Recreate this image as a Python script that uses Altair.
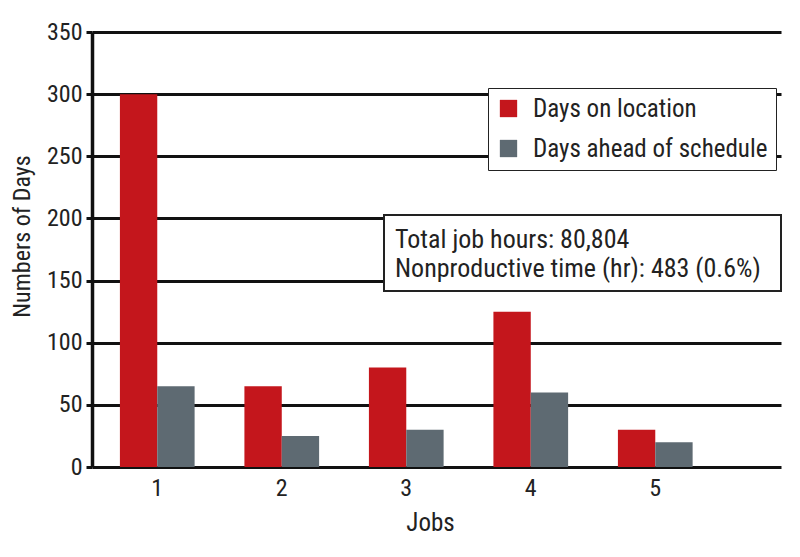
import altair as alt
import pandas as pd

jobs = ["1", "2", "3", "4", "5"]
days_on_location = [300, 65, 80, 125, 30]
days_ahead = [65, 25, 30, 60, 20]
series = ["Days on location", "Days ahead of schedule"]
colors = ["#C4161C", "#5E6A72"]
y_ticks = [0, 50, 100, 150, 200, 250, 300, 350]
note_lines = ["Total job hours: 80,804", "Nonproductive time (hr): 483 (0.6%)"]

FONT = "Liberation Sans Narrow, Roboto Condensed, DejaVu Sans Condensed, Arial Narrow, sans-serif"

rows = []
for j, a, b in zip(jobs, days_on_location, days_ahead):
    rows.append({"Job": j, "Series": series[0], "Days": a})
    rows.append({"Job": j, "Series": series[1], "Days": b})
df = pd.DataFrame(rows)

W, H = 689, 435

bars = alt.Chart(df).mark_bar().encode(
    x=alt.X("Job:N", sort=jobs,
            scale=alt.Scale(paddingInner=0.4, paddingOuter=0.467, align=0.24),
            axis=alt.Axis(title="Jobs", labelAngle=0, labelFontSize=24, labelColor="#222",
                          labelFont=FONT, labelPadding=9, ticks=False, domain=False,
                          titleFont=FONT, titleFontSize=25, titleFontWeight="normal",
                          titleColor="#222", titleX=338, titleY=55, titleBaseline="middle")),
    xOffset=alt.XOffset("Series:N", sort=series, scale=alt.Scale(paddingInner=0, paddingOuter=0)),
    y=alt.Y("Days:Q", scale=alt.Scale(domain=[0, 350], nice=False),
            axis=alt.Axis(title="Numbers of Days", values=y_ticks, labelFontSize=24,
                          labelFont=FONT, labelColor="#222", labelPadding=4,
                          tickSize=6, tickColor="#111", tickWidth=3,
                          domainColor="#111", domainWidth=3.5,
                          grid=True, gridColor="#111", gridWidth=3,
                          titleFont=FONT, titleFontSize=24, titleFontWeight="normal",
                          titleColor="#222", titleAngle=270, titleX=-70, titleY=204,
                          titleBaseline="middle")),
    color=alt.Color("Series:N", sort=series,
                    scale=alt.Scale(domain=series, range=colors),
                    legend=alt.Legend(title=None, orient="none", legendX=396, legendY=56,
                                      symbolType="square", symbolSize=300,
                                      symbolStrokeWidth=0, labelFont=FONT,
                                      labelFontSize=25, labelColor="#222", labelLimit=0,
                                      rowPadding=14, padding=8, labelOffset=12,
                                      strokeColor="#222", fillColor="white")),
)

box = alt.Chart(pd.DataFrame({"k": [0]})).mark_rect(
    fill="white", stroke="#222", strokeWidth=2
).encode(x=alt.value(292), x2=alt.value(689), y=alt.value(183), y2=alt.value(259))

note = alt.Chart(pd.DataFrame({"k": [0]})).mark_text(
    align="left", baseline="alphabetic", font=FONT, fontSize=26, color="#222", lineHeight=29
).encode(x=alt.value(303), y=alt.value(216), text=alt.value(note_lines))

chart = alt.layer(bars, box, note).properties(
    width=W, height=H,
    autosize=alt.AutoSizeParams(type="none"),
    padding={"left": 84, "top": 24, "right": 11, "bottom": 70},
).configure_view(stroke=None).configure_axis(zindex=0)

chart.save("out.html", embed_options={"renderer": "svg", "actions": False})
